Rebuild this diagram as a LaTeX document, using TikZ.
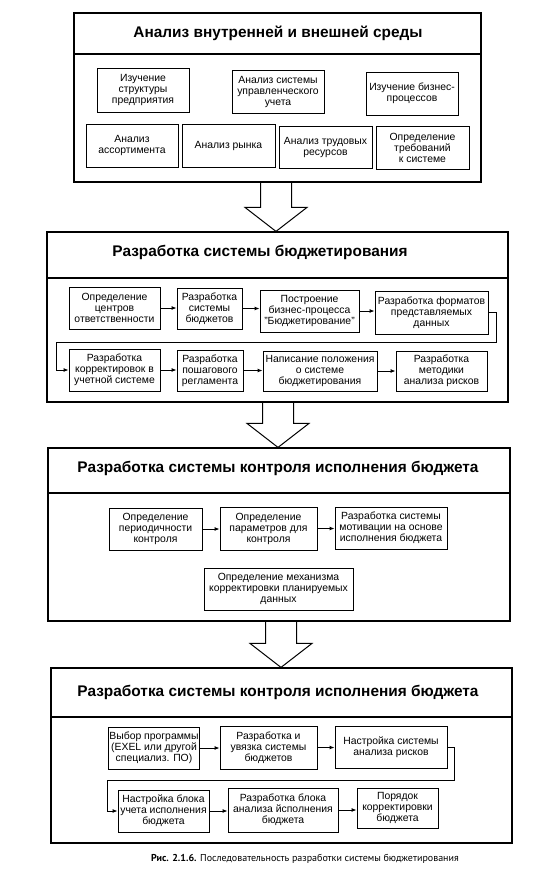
\documentclass[tikz,border=0pt]{standalone}
\usepackage{fontspec}
\setmainfont{Liberation Sans}
\newfontfamily\capfont{PT Sans}
\usetikzlibrary{arrows.meta,calc}
\newcommand\bx[6]{%
  \pgfmathsetmacro\bxcx{(#2+#4)/2}\pgfmathsetmacro\bxcy{(#3+#5)/2}%
  \pgfmathsetmacro\bxw{#4-#2}\pgfmathsetmacro\bxh{#5-#3}%
  \node[box, minimum width=\bxw pt, minimum height=\bxh pt] (#1) at (\bxcx,\bxcy) {#6};}
\newcommand\frm[9]{%
  \pgfmathsetmacro\bxcx{(#2+#4)/2}\pgfmathsetmacro\bxcy{(#3+#5)/2}%
  \pgfmathsetmacro\bxw{#4-#2}\pgfmathsetmacro\bxh{#5-#3}%
  \node[frame, minimum width=\bxw pt, minimum height=\bxh pt] (#1) at (\bxcx,\bxcy) {};
  \draw[frame] (#1.west |- 0,#6) -- (#1.east |- 0,#6);
  \node[ttl] (#1t) at (#7,#8) {#9};}
\newcommand\barrow[3]{%
  \coordinate (bxx) at (#3,0);
  \draw[blockarrow] ($(#1.south -| bxx)+(-15.5,0)$) -- ($(#2.north -| bxx)+(-15.5,-24)$)
    -- ($(#2.north -| bxx)+(-31,-24)$) -- (#2.north -| bxx) -- ($(#2.north -| bxx)+(31,-24)$)
    -- ($(#2.north -| bxx)+(15.5,-24)$) -- ($(#1.south -| bxx)+(15.5,0)$);}
\begin{document}
\begin{tikzpicture}[x=1pt,y=-1pt,
  box/.style={draw, line width=0.9pt, align=center, inner sep=1pt, font=\fontsize{10.4}{11}\selectfont},
  frame/.style={draw, line width=1.2pt, inner sep=0pt},
  ttl/.style={font=\bfseries\fontsize{15.4}{17}\selectfont},
  flow/.style={line width=0.9pt, -{Latex[length=5pt,width=4pt]}},
  blockarrow/.style={draw, line width=1pt, line join=miter}]
\useasboundingbox (0,0) rectangle (556,889);
% section 1
\frm{f1}{74}{13}{481}{182}{54}{278}{33}{Анализ внутренней и внешней среды}
\bx{s1a}{97}{68}{189}{112}{Изучение\\структуры\\предприятия}
\bx{s1b}{232}{70}{324}{113}{Анализ системы\\управленческого\\учета}
\bx{s1c}{366}{72}{458}{115}{Изучение бизнес-\\процессов}
\bx{s1d}{86}{124}{178}{167}{Анализ\\ассортимента}
\bx{s1e}{182}{124}{275}{167}{Анализ рынка}
\bx{s1f}{279}{126}{372}{168}{Анализ трудовых\\ресурсов}
\bx{s1g}{376}{126}{469}{169}{Определение\\требований\\к системе}
% section 2
\frm{f2}{47}{232}{508}{402}{278}{260}{252}{Разработка системы бюджетирования}
\bx{s2a}{69}{287}{160}{329}{Определение\\центров\\ответственности}
\bx{s2b}{177}{288}{242}{329}{Разработка\\системы\\бюджетов}
\bx{s2c}{260}{290}{359}{332}{Построение\\бизнес-процесса\\"Бюджетирование"}
\bx{s2d}{375}{291}{488}{334}{Разработка форматов\\представляемых\\данных}
\bx{s2e}{69}{349}{160}{391}{Разработка\\корректировок в\\учетной системе}
\bx{s2f}{177}{350}{243}{391}{Разработка\\пошагового\\регламента}
\bx{s2g}{263}{351}{377}{391}{Написание положения\\о системе\\бюджетирования}
\bx{s2h}{396}{351}{487}{391}{Разработка\\методики\\анализа рисков}
\draw[flow] (s2a.east) -- (s2a.east -| s2b.west);
\draw[flow] (s2b.east) -- (s2b.east -| s2c.west);
\draw[flow] (s2c.east) -- (s2c.east -| s2d.west);
\draw[flow] (s2d.east) -- ++(8,0) -- ++(0,30) -| ($(s2e.west)+(-12,0)$) -- (s2e.west);
\draw[flow] (s2e.east) -- (s2e.east -| s2f.west);
\draw[flow] (s2f.east) -- (s2f.east -| s2g.west);
\draw[flow] (s2g.east) -- (s2g.east -| s2h.west);
% section 3
\frm{f3}{48}{448}{510}{621}{493}{278}{468}{Разработка системы контроля исполнения бюджета}
\bx{s3a}{109}{508}{202}{550}{Определение\\периодичности\\контроля}
\bx{s3b}{220}{507}{317}{550}{Определение\\параметров для\\контроля}
\bx{s3c}{335}{507}{447}{549}{Разработка системы\\мотивации на основе\\исполнения бюджета}
\bx{s3d}{204}{568}{353}{610}{Определение механизма\\корректировки планируемых\\данных}
\draw[flow] (s3a.east) -- (s3a.east -| s3b.west);
\draw[flow] (s3b.east) -- (s3b.east -| s3c.west);
% section 4
\frm{f4}{51}{668}{512}{843}{717}{278}{692}{Разработка системы контроля исполнения бюджета}
\bx{s4a}{109}{727}{199}{769}{Выбор программы\\(EXEL или другой\\специализ. ПО)}
\bx{s4b}{220}{726}{317}{769}{Разработка и\\увязка системы\\бюджетов}
\bx{s4c}{335}{726}{447}{768}{Настройка системы\\анализа рисков}
\bx{s4d}{118}{790}{209}{832}{Настройка блока\\учета исполнения\\бюджета}
\bx{s4e}{228}{788}{338}{832}{Разработка блока\\анализа йсполнения\\бюджета}
\bx{s4f}{357}{788}{438}{828}{Порядок\\корректировки\\бюджета}
\draw[flow] (s4a.east) -- (s4a.east -| s4b.west);
\draw[flow] (s4b.east) -- (s4b.east -| s4c.west);
\draw[flow] (s4c.east) -- ++(7,0) -- ++(0,33) -| ($(s4d.west)+(-10,0)$) -- (s4d.west);
\draw[flow] (s4d.east) -- (s4d.east -| s4e.west);
\draw[flow] (s4e.east) -- (s4e.east -| s4f.west);
% block arrows
\barrow{f1}{f2}{276}
\barrow{f2}{f3}{278}
\barrow{f3}{f4}{281}
% caption
\node[font=\capfont\fontsize{10}{12}\selectfont] (cap) at (305,859) {\textbf{Рис. 2.1.6.} Последовательность разработки системы бюджетирования};
\end{tikzpicture}
\end{document}
